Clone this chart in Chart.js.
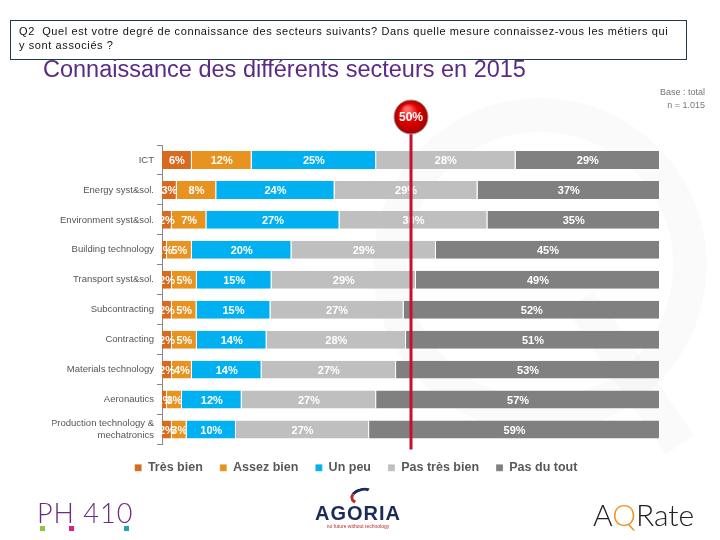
<!DOCTYPE html>
<html>
<head>
<meta charset="utf-8">
<script src="https://cdn.jsdelivr.net/npm/chart.js@4/dist/chart.umd.min.js"></script>
<style>
  body { margin: 0; background: #fff; }
  #wrap { position: relative; width: 720px; height: 540px; overflow: hidden; font-family: "Liberation Sans", Arial, sans-serif; }
  #chart { position: absolute; left: 0; top: 0; }
  .question { position: absolute; left: 10px; top: 20px; width: 667px; height: 35px; border: 1px solid #1f3a48; padding: 3px 0 0 8px; font-size: 11px; letter-spacing: 0.6px; line-height: 14px; color: #111; box-sizing: content-box; }
  .title { position: absolute; left: 43px; top: 56px; font-size: 23.5px; color: #5b2a86; white-space: nowrap; }
  .base { position: absolute; right: 15px; top: 86px; font-size: 9px; line-height: 13px; color: #777; text-align: right; }
  .ph { position: absolute; left: 37px; top: 496px; font-family: Lato, "Liberation Sans", sans-serif; font-size: 27px; color: #6a2c7e; font-weight: 300; letter-spacing: 1px; }
  .sq { position: absolute; top: 526px; width: 5px; height: 5px; }
  .agoria { position: absolute; left: 315px; top: 502px; font-size: 20px; font-weight: bold; color: #1c2a5a; letter-spacing: 1px; }
  .agoria small { display: block; font-size: 5px; color: #c0282d; font-weight: normal; letter-spacing: 0; text-align: center; margin-top: -2px; }
  .swoosh { position: absolute; left: 350px; top: 488px; width: 18px; height: 10px; border: 3px solid #1c2a5a; border-color: #1c2a5a transparent transparent #c0282d; border-radius: 50%; transform: rotate(-15deg); }
  .aqrate { position: absolute; left: 593px; top: 496px; font-family: Lato, "Liberation Sans", sans-serif; font-weight: 300; font-size: 30px; color: #222; }
  .aqrate span { color: #f39220; }
</style>
</head>
<body>
<div id="wrap">
  <canvas id="chart" width="720" height="540"></canvas>
  <div class="question">Q2&nbsp; Quel est votre degré de connaissance des secteurs suivants? Dans quelle mesure connaissez-vous les métiers qui<br>y sont associés ?</div>
  <div class="title">Connaissance des différents secteurs en 2015</div>
  <div class="base">Base : total<br>n = 1.015</div>
  <div class="ph">PH 410</div>
  <div class="sq" style="left:40px;background:#8dc63f"></div>
  <div class="sq" style="left:69px;background:#d6257a"></div>
  <div class="sq" style="left:124px;background:#1fa3b8"></div>
  <div class="swoosh"></div>
  <div class="agoria">AGORIA<small>no future without technology</small></div>
  <div class="aqrate">A<span>Q</span>Rate</div>
</div>
<script>
// secteurs
const sectors = [
  'ICT',
  'Energy syst&sol.',
  'Environment syst&sol.',
  'Building technology',
  'Transport syst&sol.',
  'Subcontracting',
  'Contracting',
  'Materials technology',
  'Aeronautics',
  ['Production technology &', 'mechatronics']
];

const seriesNames = ['Très bien', 'Assez bien', 'Un peu', 'Pas très bien', 'Pas du tout'];
const seriesColors = ['#d9691e', '#e8921f', '#00b0f0', '#bfbfbf', '#808080'];

// % par secteur
const tresBien    = [6, 3, 2, 1, 2, 2, 2, 2, 1, 2];
const assezBien   = [12, 8, 7, 5, 5, 5, 5, 4, 3, 3];
const unPeu       = [25, 24, 27, 20, 15, 15, 14, 14, 12, 10];
const pasTresBien = [28, 29, 30, 29, 29, 27, 28, 27, 27, 27];
const pasDuTout   = [29, 37, 35, 45, 49, 52, 51, 53, 57, 59];

const markerValue = 50; // ligne rouge

const raw = [tresBien, assezBien, unPeu, pasTresBien, pasDuTout];
// barres empilées à 100%, comme dans Excel
const rowTotals = sectors.map((_, j) => raw.reduce((s, arr) => s + arr[j], 0));

const datasets = raw.map((arr, i) => ({
  label: seriesNames[i],
  data: arr.map((v, j) => v / rowTotals[j] * 100),
  backgroundColor: seriesColors[i],
  borderColor: '#ffffff',
  borderWidth: { right: 1 },
  borderSkipped: false,
  barPercentage: 0.6,
  categoryPercentage: 1
}));

// fond : filigrane léger
const watermark = {
  id: 'watermark',
  beforeDatasetsDraw(chart) {
    const ctx = chart.ctx;
    ctx.save();
    ctx.strokeStyle = 'rgba(0,0,0,0.018)';
    ctx.lineWidth = 34;
    ctx.beginPath();
    ctx.arc(540, 265, 150, 0, Math.PI * 2);
    ctx.stroke();
    ctx.beginPath();
    ctx.moveTo(580, 300);
    ctx.lineTo(680, 445);
    ctx.stroke();
    ctx.restore();
  }
};

// étiquettes des segments
const segmentLabels = {
  id: 'segmentLabels',
  afterDatasetsDraw(chart) {
    const ctx = chart.ctx;
    ctx.save();
    ctx.font = 'bold 11px "Liberation Sans", Arial, sans-serif';
    ctx.fillStyle = '#ffffff';
    ctx.textAlign = 'center';
    ctx.textBaseline = 'middle';
    chart.data.datasets.forEach((ds, i) => {
      chart.getDatasetMeta(i).data.forEach((bar, j) => {
        const p = bar.getProps(['x', 'y', 'base'], true);
        ctx.fillText(raw[i][j] + '%', (p.x + p.base) / 2, p.y + 1);
      });
    });
    ctx.restore();
  }
};

// ligne rouge 50% + pastille
const marker = {
  id: 'marker',
  afterDatasetsDraw(chart) {
    const ctx = chart.ctx;
    const x = chart.scales.x.getPixelForValue(markerValue);
    const top = chart.chartArea.top;
    const bottom = chart.chartArea.bottom;
    ctx.save();
    ctx.strokeStyle = '#c8102e';
    ctx.lineWidth = 3;
    ctx.beginPath();
    ctx.moveTo(x, top - 12);
    ctx.lineTo(x, bottom + 5);
    ctx.stroke();
    const cy = top - 28, r = 17;
    const g = ctx.createRadialGradient(x - 4, cy - 8, 2, x, cy, r);
    g.addColorStop(0, '#ff6b6b');
    g.addColorStop(0.5, '#e00000');
    g.addColorStop(1, '#a80000');
    ctx.fillStyle = g;
    ctx.beginPath();
    ctx.arc(x, cy, r, 0, Math.PI * 2);
    ctx.fill();
    ctx.strokeStyle = '#999';
    ctx.lineWidth = 1;
    ctx.stroke();
    ctx.fillStyle = '#fff';
    ctx.font = 'bold 12px "Liberation Sans", Arial, sans-serif';
    ctx.textAlign = 'center';
    ctx.textBaseline = 'middle';
    ctx.fillText(markerValue + '%', x, cy + 1);
    ctx.restore();
  }
};

new Chart(document.getElementById('chart'), {
  type: 'bar',
  data: { labels: sectors, datasets: datasets },
  plugins: [watermark, segmentLabels, marker],
  options: {
    indexAxis: 'y',
    responsive: false,
    animation: false,
    layout: { padding: { top: 145, right: 60, left: 52, bottom: 56 } },
    plugins: {
      legend: {
        position: 'bottom',
        labels: {
          boxWidth: 7,
          boxHeight: 7,
          padding: 17,
          color: '#595959',
          font: { family: '"Liberation Sans", Arial, sans-serif', size: 12.5, weight: 'bold' }
        }
      },
      tooltip: { enabled: false }
    },
    scales: {
      x: { stacked: true, min: 0, max: 100, display: false },
      y: {
        stacked: true,
        afterFit(scale) { scale.width = 110; },
        grid: { display: true, drawOnChartArea: false, drawTicks: true, tickLength: 5, color: '#888', offset: true },
        border: { display: true, color: '#888', width: 1 },
        ticks: {
          color: '#555',
          padding: 3,
          font: { family: '"Liberation Sans", Arial, sans-serif', size: 9.5 }
        }
      }
    }
  }
});
</script>
</body>
</html>
